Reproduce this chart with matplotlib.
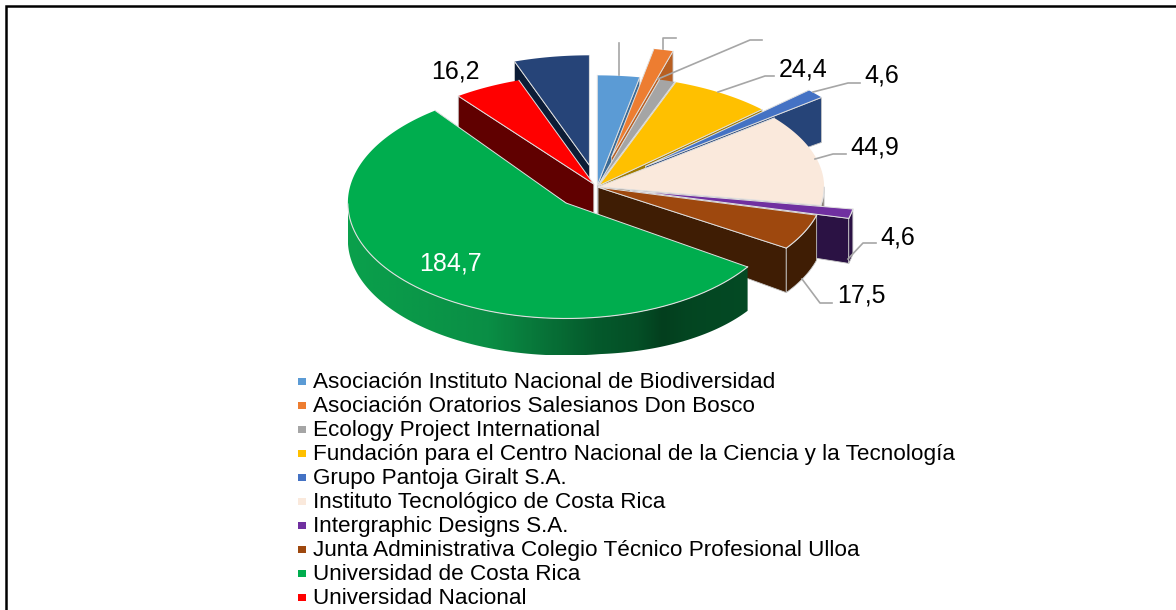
import numpy as np
import matplotlib
matplotlib.use("Agg")
import matplotlib.pyplot as plt
from matplotlib.colors import LinearSegmentedColormap
from matplotlib.patches import Polygon

plt.rcParams['font.family'] = ['Liberation Sans', 'DejaVu Sans']

entidades = ['Asociación Instituto Nacional de Biodiversidad',
             'Asociación Oratorios Salesianos Don Bosco',
             'Ecology Project International',
             'Fundación para el Centro Nacional de la Ciencia y la Tecnología',
             'Grupo Pantoja Giralt S.A.',
             'Instituto Tecnológico de Costa Rica',
             'Intergraphic Designs S.A.',
             'Junta Administrativa Colegio Técnico Profesional Ulloa',
             'Universidad de Costa Rica',
             'Universidad Nacional']
# la ultima porcion no sale en la leyenda recortada
montos = [10.0, 4.6, 3.8, 24.4, 4.6, 44.9, 4.6, 17.5, 184.7, 16.2, 17.9]
colores = ['#5B9BD5', '#ED7D31', '#A5A5A5', '#FFC000', '#4472C4', '#FAE9DC',
           '#7030A0', '#9E480E', '#00AD4E', '#FF0000', '#264478']
paredes = ['#3A6A96', '#B85F22', '#7A7A7A', '#A07A00', '#264478', '#8A8078',
           '#2B1244', '#3F1D04', '#00401F', '#600000', '#0C1C36']
separacion = [0.015, 0.28, 0.015, 0.015, 0.285, 0.005, 0.15, 0.005, 0.2, 0.03, 0.2]

# etiquetas que se leen en el grafico (las otras quedaron tapadas)
etiquetas = [(779, 76, '24,4'), (864, 83, '4,6'), (850, 154, '44,9'),
             (880, 244, '4,6'), (837, 303, '17,5'), (431, 78, '16,2')]
lineas = [[(619, 75), (619, 43)],
          [(663, 49), (663, 38), (676, 38)],
          [(658, 79), (750, 40), (762, 40)],
          [(718, 92), (765, 76), (774, 76)],
          [(813, 92), (848, 83), (860, 83)],
          [(815, 159), (833, 154), (846, 154)],
          [(848, 259), (863, 243), (876, 243)],
          [(802, 279), (820, 303), (832, 303)]]

cx, cy = 597, 187
rx, ry = 226, 110
VERDE = 8


def alto(x):
    return np.interp(x, [460, 600, 750, 820], [37, 37, 44, 45])


def punto(ang, sep, mitad, i, r=1.0):
    # angulo en radianes, horario desde arriba
    ex = 0.965 if i == VERDE else 1.0
    ey = 1.05 if i == VERDE else 1.0
    x = cx + rx * (sep * np.sin(mitad) + ex * r * np.sin(ang))
    y = cy - ry * (sep * np.cos(mitad) + ey * r * np.cos(ang))
    return x, y


fig = plt.figure(figsize=(11.76, 6.1), dpi=100)
ax = fig.add_axes([0, 0, 1, 1])

# marco
ax.plot([6, 6, 1180], [612, 6, 6], color='black', lw=1.8, solid_joinstyle='miter')

limites = np.radians(np.concatenate([[0], np.cumsum(montos)]) / sum(montos) * 360)
medios = (limites[:-1] + limites[1:]) / 2

# de atras hacia adelante
orden = sorted(range(len(montos)), key=lambda k: -np.cos(medios[k]))
degradado = LinearSegmentedColormap.from_list('verde', ['#0AA04C', '#0A8E45', '#055A2C', '#033F1E', '#044A24'])
z = 2
for i in orden:
    a0, a1, m, s = limites[i], limites[i + 1], medios[i], separacion[i]
    arco = np.linspace(a0, a1, max(int(np.degrees(a1 - a0)), 2) * 2 + 1)
    px, py = punto(arco, s, m, i)
    ox, oy = punto(0.0, s, m, i, r=0.0)

    # paredes radiales, solo las que miran al frente
    for ang, visible in ((a0, np.sin(a0) < 0), (a1, np.sin(a1) > 0)):
        if visible:
            qx, qy = punto(ang, s, m, i)
            ax.fill([ox, qx, qx, ox], [oy, qy, qy + alto(qx), oy + alto(ox)], facecolor=paredes[i],
                    edgecolor='#C8C8C8', lw=0.6, zorder=z)

    # pared exterior
    frente = np.cos(arco) < 0
    if frente.sum() > 1:
        fx, fy = px[frente], py[frente]
        poli_x = np.r_[fx, fx[::-1]]
        poli_y = np.r_[fy, fy[::-1] + alto(fx[::-1])]
        if i == VERDE:
            franja = np.interp(np.linspace(fx.min(), fx.max(), 256),
                               [fx.min(), fx.min() + 140, fx.min() + 290, fx.min() + 340, fx.max()],
                               [0.0, 0.25, 0.6, 0.9, 1.0])
            im = ax.imshow(franja[None, :], cmap=degradado, vmin=0, vmax=1, aspect='auto',
                           extent=[fx.min(), fx.max(), poli_y.max(), poli_y.min()], zorder=z + 0.1)
            im.set_clip_path(Polygon(np.c_[poli_x, poli_y], transform=ax.transData))
        else:
            ax.fill(poli_x, poli_y, facecolor=paredes[i], edgecolor='#C8C8C8', lw=0.6, zorder=z + 0.1)

    # cara superior: el borde claro solo va en los lados y en el frente
    ax.fill(np.r_[ox, px], np.r_[oy, py], facecolor=colores[i], edgecolor='none', zorder=z + 0.2)
    ax.plot([px[0], ox, px[-1]], [py[0], oy, py[-1]], color='#E0E0E0', lw=0.7, zorder=z + 0.3)
    if frente.sum() > 1:
        ax.plot(px[frente], py[frente], color='#E0E0E0', lw=0.8, zorder=z + 0.3)
    z += 1

for ln in lineas:
    ax.plot([p[0] for p in ln], [p[1] for p in ln], color='#A6A6A6', lw=1.2, zorder=25)

for x, y, t in etiquetas:
    ax.text(x, y, t, fontsize=18, color='black', va='baseline', ha='left', zorder=30)
ax.text(419, 270, '184,7', fontsize=18, color='white', va='baseline', ha='left', zorder=30)

# leyenda
for k in range(len(entidades)):
    y = 381.5 + 23.95 * k
    ax.fill([298, 306, 306, 298], [y - 3.5, y - 3.5, y + 3.5, y + 3.5], color=colores[k], lw=0)
    ax.text(313, y + 6.5, entidades[k], fontsize=16.2, color='black', va='baseline', ha='left')

ax.set_xlim(0, 1176)
ax.set_ylim(610, 0)
ax.axis('off')

fig.savefig('out.png', dpi=100)
